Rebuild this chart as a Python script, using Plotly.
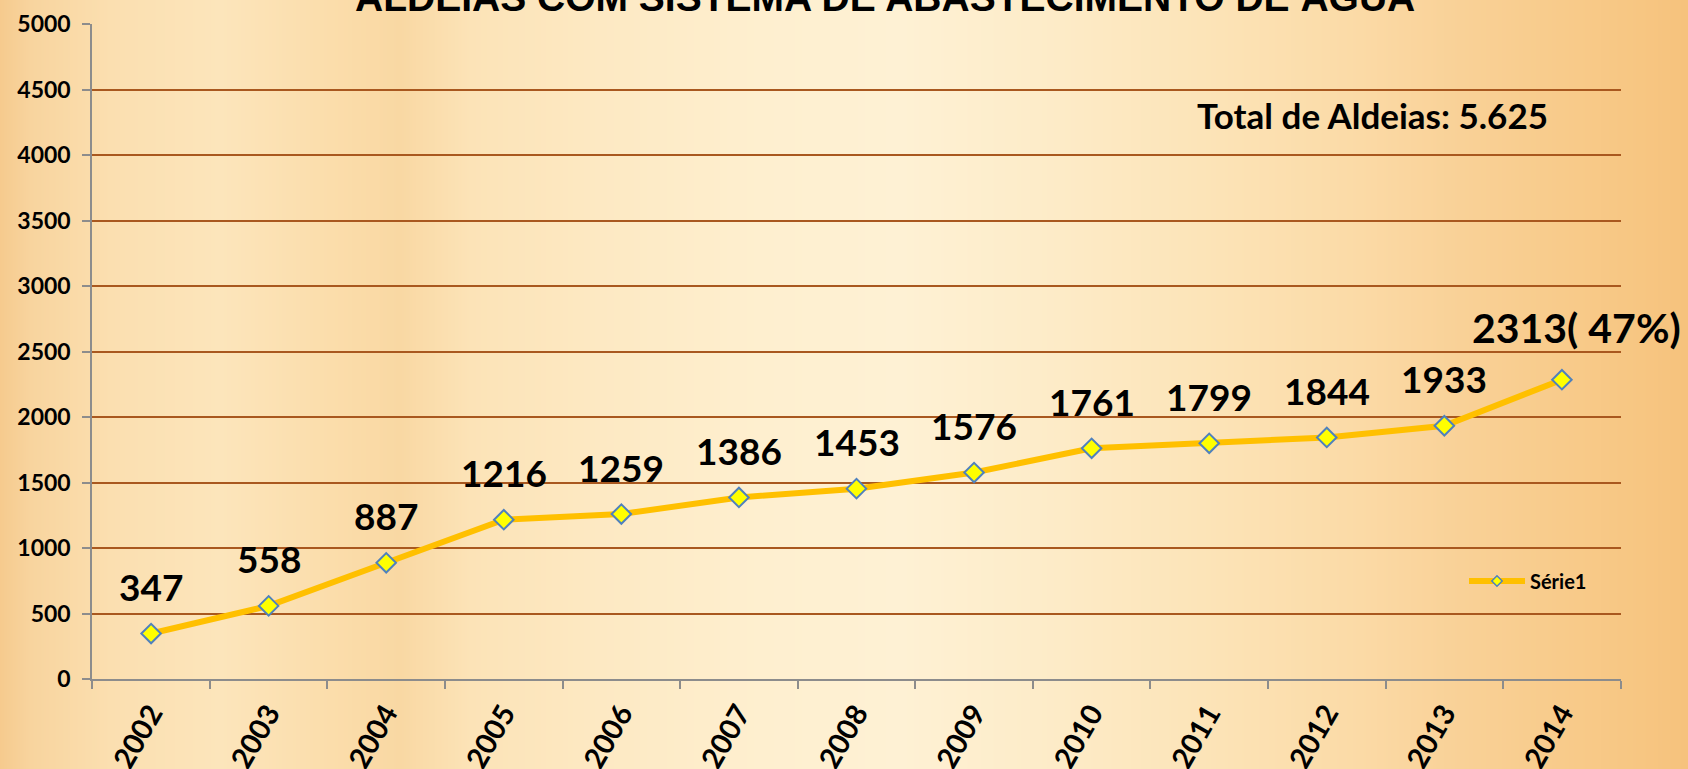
import plotly.graph_objects as go

# ---- data ----
years = ["2002", "2003", "2004", "2005", "2006", "2007", "2008",
         "2009", "2010", "2011", "2012", "2013", "2014"]
aldeias = [347, 558, 887, 1216, 1259, 1386, 1453, 1576, 1761, 1799, 1844, 1933, 2285]
point_labels = ["347", "558", "887", "1216", "1259", "1386", "1453",
                "1576", "1761", "1799", "1844", "1933", "2313( 47%)"]
series_name = "Série1"
title_text = "ALDEIAS COM SISTEMA DE ABASTECIMENTO DE ÁGUA"
total_text = "Total de Aldeias: 5.625"

# ---- background gradient (style only) ----
W, H = 1688, 769
bg_x = [-20, 30, 110, 220, 330, 400, 470, 600, 760, 900, 1060, 1220, 1360, 1460, 1560, 1640, 1710]
bg_c = ["#F4C483", "#F8D49E", "#FBDFB0", "#FCE5BB", "#FBDDAB", "#F9D8A3", "#FCE3B7",
        "#FDE9C3", "#FEEFCF", "#FEF1D4", "#FDEBC7", "#FCE3B6", "#FBDAA6", "#F9D197",
        "#F8CB8B", "#F7C682", "#F5C07A"]
bg_z = [[i / (len(bg_x) - 1) for i in range(len(bg_x))]] * 2
bg_scale = [[i / (len(bg_c) - 1), c] for i, c in enumerate(bg_c)]

FONT = "Lato, Carlito, Open Sans, sans-serif"
GRID = "#A9581F"
AXIS = "#8C8C8C"
LINE = "#FFC000"

fig = go.Figure()

fig.add_trace(go.Heatmap(
    x=bg_x, y=[-40, H + 40], z=bg_z, colorscale=bg_scale, zsmooth="best",
    showscale=False, hoverinfo="skip", xaxis="x", yaxis="y", zmin=0, zmax=1,
    showlegend=False,
))

fig.add_trace(go.Scatter(
    x=years, y=aldeias, name=series_name, mode="lines+markers",
    line=dict(color=LINE, width=6),
    marker=dict(symbol="diamond", size=15, color="#FFFF00",
                line=dict(color="#4F81BD", width=2)),
    xaxis="x2", yaxis="y2", showlegend=False,
))
# legend entry (smaller symbol, as in the reference legend)
fig.add_trace(go.Scatter(
    x=[None], y=[None], name=series_name, mode="lines+markers",
    line=dict(color=LINE, width=6),
    marker=dict(symbol="diamond", size=8, color="#FFFF00",
                line=dict(color="#4F81BD", width=1.5)),
    xaxis="x2", yaxis="y2", showlegend=True,
))

annotations = []
for i, (v, lab) in enumerate(zip(aldeias, point_labels)):
    last = i == len(years) - 1
    annotations.append(dict(
        x=i, y=v, xref="x2", yref="y2", text=f"<b>{lab}</b>", showarrow=False,
        font=dict(family=FONT, size=41 if last else 37, color="black"),
        xanchor="center", yanchor="middle",
        xshift=15 if last else 0, yshift=52 if last else 47,
    ))

annotations.append(dict(
    x=885 / W, y=(H - 21) / H, xref="paper", yref="paper",
    text=f"<b>{title_text}</b>", showarrow=False,
    font=dict(family="Liberation Sans Narrow, Arial Narrow, Liberation Sans, sans-serif",
              size=39, color="black"),
    xanchor="center", yanchor="bottom",
))
annotations.append(dict(
    x=1372 / W, y=(H - 115) / H, xref="paper", yref="paper",
    text=f"<b>{total_text}</b>", showarrow=False,
    font=dict(family=FONT, size=35, color="black"),
    xanchor="center", yanchor="middle",
))

fig.update_layout(
    template="none",
    width=W, height=H,
    margin=dict(l=0, r=0, t=0, b=0, pad=0),
    paper_bgcolor="#FCE3B8", plot_bgcolor="rgba(0,0,0,0)",
    xaxis=dict(domain=[0, 1], range=[0, W], visible=False, fixedrange=True, automargin=False),
    yaxis=dict(domain=[0, 1], range=[0, H], visible=False, fixedrange=True, automargin=False),
    xaxis2=dict(
        domain=[92.3 / W, 1620.7 / W], anchor="y2", type="category",
        range=[-0.5, len(years) - 0.5], automargin=False,
        tickson="boundaries", ticks="outside", ticklen=8, tickwidth=2, tickcolor=AXIS,
        showline=True, linecolor=AXIS, linewidth=2, showgrid=False, zeroline=False,
        tickangle=-60, ticklabelstandoff=4,
        tickfont=dict(family=FONT, size=29, color="black", weight="bold"),
    ),
    yaxis2=dict(
        domain=[(H - 679) / H, (H - 24) / H], anchor="x2", range=[0, 5000], dtick=500,
        automargin=False,
        showgrid=True, gridcolor=GRID, gridwidth=2, zeroline=False,
        showline=True, linecolor=AXIS, linewidth=2,
        ticks="outside", ticklen=8, tickwidth=2, tickcolor=AXIS, ticklabelstandoff=7,
        tickfont=dict(family=FONT, size=23, color="black", weight="bold"),
    ),
    legend=dict(
        x=1464 / W, y=(H - 581) / H, xanchor="left", yanchor="middle",
        bgcolor="rgba(0,0,0,0)", itemwidth=56,
        font=dict(family=FONT, size=20, color="black", weight="bold"),
    ),
    annotations=annotations,
)

fig.write_html("out.html", config={"displayModeBar": False},
               post_script="document.body.style.margin='0';")
